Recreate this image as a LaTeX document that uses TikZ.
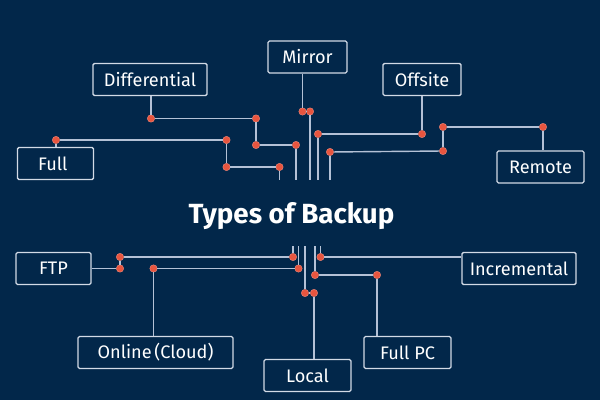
\documentclass[tikz,border=0pt]{standalone}
\usepackage{fontspec}
\setmainfont{Fira Sans}
\definecolor{backdrop}{HTML}{02274A}
\definecolor{wire}{HTML}{B4C1D6}
\definecolor{pin}{HTML}{E8553F}
\begin{document}
\begin{tikzpicture}[x=0.025cm, y=-0.025cm,
    kind/.style={rectangle, rounded corners=1pt, draw=wire!60!white, line width=0.9pt, text=white, font=\fontsize{12.9}{15}\selectfont, minimum height=0.8cm, inner sep=0pt},
    pin/.style={circle, fill=pin, draw=pin!70!white, line width=0.3pt, minimum size=0.185cm, inner sep=0pt},
    wire/.style={draw=wire, line width=1pt}]
    \fill[backdrop] (0, 0) rectangle (600, 400);

    \node[font=\bfseries\fontsize{19.7}{23}\selectfont, text=white] (title) at (291.5, 216) {Types of Backup};

    \node[kind, minimum width=2.85cm] (diff) at (150, 79.5) {Differential};
    \node[kind, minimum width=1.9cm] (full) at (55.5, 163.5) {\hspace{-0.3em}Full};
    \node[kind, minimum width=1.97cm] (mirror) at (307.5, 57) {Mirror};
    \node[kind, minimum width=1.95cm] (offsite) at (422, 79.5) {Offsite};
    \node[kind, minimum width=2.17cm] (remote) at (540.5, 167) {Remote};

    \node[kind, minimum width=1.87cm] (ftp) at (53.5, 268.5) {FTP};
    \node[kind, minimum width=3.87cm] (online) at (155.5, 352.5) {Online\hspace{0.15em}(Cloud)};
    \node[kind, minimum width=2.17cm] (local) at (307.5, 375.5) {Local};
    \node[kind, minimum width=2.17cm] (fullpc) at (407.5, 352.5) {Full PC};
    \node[kind, minimum width=2.85cm] (incr) at (519, 268.5) {Incremental};

    % top side
    \node[pin] (d-0) at (151, 118.5) {};
    \node[pin] (d-1) at (256, 118.5) {};
    \node[pin] (d-2) at (256, 145) {};
    \node[pin] (d-3) at (296, 145) {};
    \coordinate (e-3) at (296, 180);

    \node[pin] (f-0) at (56, 140) {};
    \node[pin] (f-1) at (226.5, 140) {};
    \node[pin] (f-2) at (226.5, 167) {};
    \node[pin] (f-3) at (279.5, 167) {};
    \coordinate (e-0) at (279.5, 180);

    \node[pin] (m-0) at (302.5, 111.5) {};
    \node[pin] (m-1) at (310, 111.5) {};
    \coordinate (e-1) at (310, 180);

    \node[pin] (o-0) at (422, 134) {};
    \node[pin] (o-1) at (318, 134) {};
    \coordinate (e-2) at (318, 180);

    \node[pin] (r-0) at (543, 127) {};
    \node[pin] (r-1) at (443, 127) {};
    \node[pin] (r-2) at (443, 151) {};
    \node[pin] (r-3) at (330, 152) {};
    \coordinate (e-4) at (330, 180);

    \draw[wire] (diff.south -| d-0) -- (d-0);
    \draw[wire] (d-0) -- (d-1);
    \draw[wire] (d-1) -- (d-2);
    \draw[wire] (d-2) -- (d-3);
    \draw[wire] (d-3) -- (e-3);

    \draw[wire] (full.north -| f-0) -- (f-0);
    \draw[wire] (f-0) -- (f-1);
    \draw[wire] (f-1) -- (f-2);
    \draw[wire] (f-2) -- (f-3);
    \draw[wire] (f-3) -- (e-0);

    \draw[wire] (mirror.south -| m-0) -- (m-0);
    \draw[wire] (m-0) -- (m-1);
    \draw[wire] (m-1) -- (e-1);

    \draw[wire] (offsite.south -| o-0) -- (o-0);
    \draw[wire] (o-0) -- (o-1);
    \draw[wire] (o-1) -- (e-2);

    \draw[wire] (remote.north -| r-0) -- (r-0);
    \draw[wire] (r-0) -- (r-1);
    \draw[wire] (r-1) -- (r-2);
    \draw[wire] (r-2) -- (r-3);
    \draw[wire] (r-3) -- (e-4);

    % bottom side
    \node[pin] (t-0) at (120, 268.5) {};
    \node[pin] (t-1) at (120, 257) {};
    \node[pin] (t-2) at (293, 257) {};
    \coordinate (b-0) at (293, 246);

    \node[pin] (c-0) at (153.5, 268.5) {};
    \node[pin] (c-1) at (298.5, 268.5) {};
    \coordinate (b-1) at (298.5, 246);

    \node[pin] (l-0) at (314, 293) {};
    \node[pin] (l-1) at (305, 293) {};
    \coordinate (b-2) at (305, 246);

    \node[pin] (p-0) at (377, 275) {};
    \node[pin] (p-1) at (315, 275) {};
    \coordinate (b-3) at (315, 246);

    \node[pin] (i-0) at (320.5, 257) {};
    \coordinate (b-4) at (320.5, 246);

    \draw[wire] (ftp) -- (t-0);
    \draw[wire] (t-0) -- (t-1);
    \draw[wire] (t-1) -- (t-2);
    \draw[wire] (t-2) -- (b-0);

    \draw[wire] (online.north -| c-0) -- (c-0);
    \draw[wire] (c-0) -- (c-1);
    \draw[wire] (c-1) -- (b-1);

    \draw[wire] (local.north -| l-0) -- (l-0);
    \draw[wire] (l-0) -- (l-1);
    \draw[wire] (l-1) -- (b-2);

    \draw[wire] (fullpc.north -| p-0) -- (p-0);
    \draw[wire] (p-0) -- (p-1);
    \draw[wire] (p-1) -- (b-3);

    \draw[wire] (incr.west |- i-0) -- (i-0);
    \draw[wire] (i-0) -- (b-4);
\end{tikzpicture}
\end{document}
